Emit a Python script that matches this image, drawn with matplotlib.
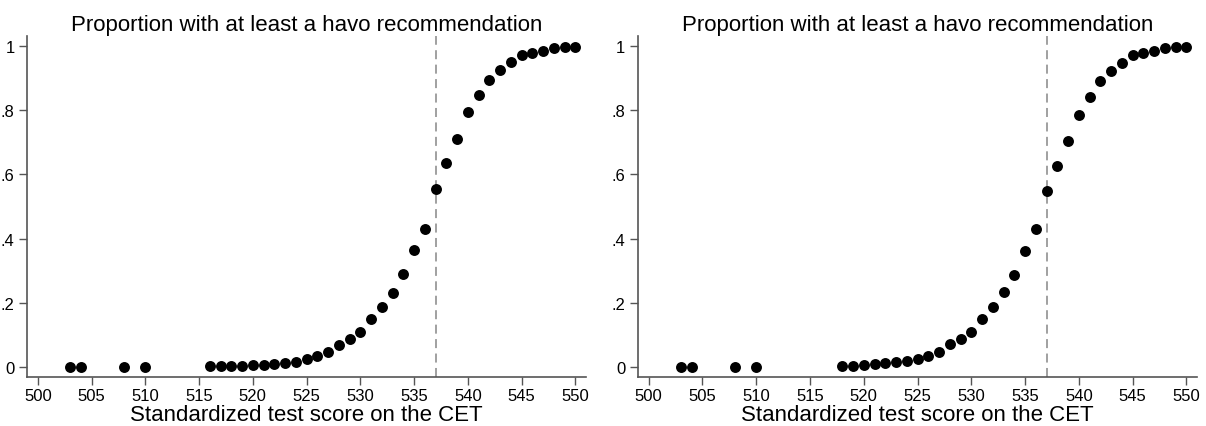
import matplotlib
matplotlib.use("Agg")
import matplotlib.pyplot as plt

plt.rcParams['font.family'] = ['Liberation Sans', 'DejaVu Sans']

scores_left = [503, 504, 508, 510, 516, 517, 518, 519, 520, 521, 522, 523, 524, 525,
               526, 527, 528, 529, 530, 531, 532, 533, 534, 535, 536, 537, 538, 539,
               540, 541, 542, 543, 544, 545, 546, 547, 548, 549, 550]
prop_left = [0.0, 0.0, 0.0, 0.0, 0.002, 0.002, 0.003, 0.003, 0.005, 0.007, 0.010, 0.014,
             0.017, 0.025, 0.033, 0.046, 0.069, 0.087, 0.110, 0.150, 0.188, 0.230, 0.289,
             0.363, 0.429, 0.553, 0.635, 0.711, 0.795, 0.846, 0.893, 0.926, 0.950, 0.972,
             0.978, 0.985, 0.993, 0.997, 0.998]

scores_right = [503, 504, 508, 510, 518, 519, 520, 521, 522, 523, 524, 525, 526, 527,
                528, 529, 530, 531, 532, 533, 534, 535, 536, 537, 538, 539, 540, 541,
                542, 543, 544, 545, 546, 547, 548, 549, 550]
prop_right = [0.0, 0.0, 0.0, 0.0, 0.003, 0.004, 0.005, 0.008, 0.011, 0.017, 0.018, 0.026,
              0.035, 0.048, 0.071, 0.088, 0.109, 0.150, 0.186, 0.233, 0.286, 0.362, 0.429,
              0.549, 0.625, 0.704, 0.786, 0.841, 0.890, 0.923, 0.948, 0.971, 0.978, 0.985,
              0.993, 0.997, 0.998]

cutoff = 537
title = "Proportion with at least a havo recommendation"
xlabel = "Standardized test score on the CET"
xticks = [500, 505, 510, 515, 520, 525, 530, 535, 540, 545, 550]
yticks = [0, 0.2, 0.4, 0.6, 0.8, 1]
ytick_labels = ["0", ".2", ".4", ".6", ".8", "1"]

fig = plt.figure(figsize=(12.06, 4.27), dpi=100)
axes_pos = [[0.0224, 0.1148, 0.4636, 0.7985], [0.529, 0.1148, 0.4636, 0.7985]]
spine_col = "#555555"
for pos, xs, ys in zip(axes_pos, [scores_left, scores_right], [prop_left, prop_right]):
    ax = fig.add_axes(pos)
    ax.scatter(xs, ys, s=62, color="black", zorder=3, linewidths=0)
    ax.axvline(cutoff, color="#999999", linestyle=(0, (5, 3)), linewidth=1.3, zorder=2)
    ax.set_xlim(499.0, 551.0)
    ax.set_ylim(-0.031, 1.031)
    ax.set_xticks(xticks)
    ax.set_yticks(yticks)
    ax.set_yticklabels(ytick_labels)
    ax.spines['top'].set_visible(False)
    ax.spines['right'].set_visible(False)
    for s in ['left', 'bottom']:
        ax.spines[s].set_color(spine_col)
        ax.spines[s].set_linewidth(1.2)
    ax.tick_params(axis='both', direction='out', length=5.5, width=1, color=spine_col,
                   labelsize=12, pad=3.5)
    ax.tick_params(axis='x', pad=2.5)
    ax.set_title(title, fontsize=16, pad=4)
    ax.set_xlabel(xlabel, fontsize=16, labelpad=1)

fig.savefig("out.png", dpi=100)
